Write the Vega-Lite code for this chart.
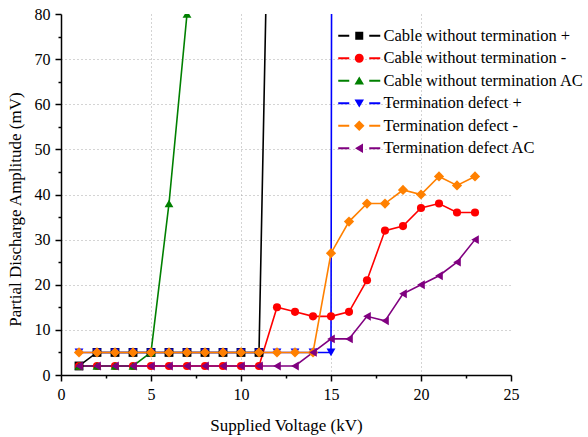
{
  "$schema": "https://vega.github.io/schema/vega-lite/v6.json",
  "width": 450,
  "height": 361,
  "autosize": {"type": "none"},
  "padding": {"left": 61, "top": 14, "right": 77, "bottom": 62},
  "background": "white",
  "config": {
    "view": {"stroke": null},
    "font": "Liberation Serif",
    "axis": {
      "domainColor": "black",
      "domainWidth": 1.5,
      "tickColor": "black",
      "tickWidth": 1.5,
      "labelFont": "Liberation Serif",
      "labelFontSize": 16,
      "labelColor": "black",
      "labelFlush": false,
      "labelOverlap": false,
      "titleFont": "Liberation Serif",
      "titleFontWeight": "normal",
      "titleColor": "black",
      "gridColor": "#a8a8a8",
      "gridDash": [1, 3]
    }
  },
  "resolve": {"axis": {"x": "independent", "y": "independent"}},
  "data": {
    "values": [
      {"s": "Cable without termination +", "v": 1, "pd": 2},
      {"s": "Cable without termination +", "v": 2, "pd": 5},
      {"s": "Cable without termination +", "v": 3, "pd": 5},
      {"s": "Cable without termination +", "v": 4, "pd": 5},
      {"s": "Cable without termination +", "v": 5, "pd": 5},
      {"s": "Cable without termination +", "v": 6, "pd": 5},
      {"s": "Cable without termination +", "v": 7, "pd": 5},
      {"s": "Cable without termination +", "v": 8, "pd": 5},
      {"s": "Cable without termination +", "v": 9, "pd": 5},
      {"s": "Cable without termination +", "v": 10, "pd": 5},
      {"s": "Cable without termination +", "v": 11, "pd": 5},
      {"s": "Cable without termination +", "v": 12, "pd": 205},
      {"s": "Cable without termination -", "v": 1, "pd": 2},
      {"s": "Cable without termination -", "v": 2, "pd": 2},
      {"s": "Cable without termination -", "v": 3, "pd": 2},
      {"s": "Cable without termination -", "v": 4, "pd": 2},
      {"s": "Cable without termination -", "v": 5, "pd": 2},
      {"s": "Cable without termination -", "v": 6, "pd": 2},
      {"s": "Cable without termination -", "v": 7, "pd": 2},
      {"s": "Cable without termination -", "v": 8, "pd": 2},
      {"s": "Cable without termination -", "v": 9, "pd": 2},
      {"s": "Cable without termination -", "v": 10, "pd": 2},
      {"s": "Cable without termination -", "v": 11, "pd": 2},
      {"s": "Cable without termination -", "v": 12, "pd": 15},
      {"s": "Cable without termination -", "v": 13, "pd": 14},
      {"s": "Cable without termination -", "v": 14, "pd": 13},
      {"s": "Cable without termination -", "v": 15, "pd": 13},
      {"s": "Cable without termination -", "v": 16, "pd": 14},
      {"s": "Cable without termination -", "v": 17, "pd": 21},
      {"s": "Cable without termination -", "v": 18, "pd": 32},
      {"s": "Cable without termination -", "v": 19, "pd": 33},
      {"s": "Cable without termination -", "v": 20, "pd": 37},
      {"s": "Cable without termination -", "v": 21, "pd": 38},
      {"s": "Cable without termination -", "v": 22, "pd": 36},
      {"s": "Cable without termination -", "v": 23, "pd": 36},
      {"s": "Cable without termination AC", "v": 1, "pd": 2},
      {"s": "Cable without termination AC", "v": 2, "pd": 2},
      {"s": "Cable without termination AC", "v": 3, "pd": 2},
      {"s": "Cable without termination AC", "v": 4, "pd": 2},
      {"s": "Cable without termination AC", "v": 5, "pd": 5},
      {"s": "Cable without termination AC", "v": 6, "pd": 38},
      {"s": "Cable without termination AC", "v": 7, "pd": 80},
      {"s": "Termination defect +", "v": 1, "pd": 5},
      {"s": "Termination defect +", "v": 2, "pd": 5},
      {"s": "Termination defect +", "v": 3, "pd": 5},
      {"s": "Termination defect +", "v": 4, "pd": 5},
      {"s": "Termination defect +", "v": 5, "pd": 5},
      {"s": "Termination defect +", "v": 6, "pd": 5},
      {"s": "Termination defect +", "v": 7, "pd": 5},
      {"s": "Termination defect +", "v": 8, "pd": 5},
      {"s": "Termination defect +", "v": 9, "pd": 5},
      {"s": "Termination defect +", "v": 10, "pd": 5},
      {"s": "Termination defect +", "v": 11, "pd": 5},
      {"s": "Termination defect +", "v": 12, "pd": 5},
      {"s": "Termination defect +", "v": 13, "pd": 5},
      {"s": "Termination defect +", "v": 14, "pd": 5},
      {"s": "Termination defect +", "v": 15, "pd": 5},
      {"s": "Termination defect +", "v": 16, "pd": 2500},
      {"s": "Termination defect -", "v": 1, "pd": 5},
      {"s": "Termination defect -", "v": 2, "pd": 5},
      {"s": "Termination defect -", "v": 3, "pd": 5},
      {"s": "Termination defect -", "v": 4, "pd": 5},
      {"s": "Termination defect -", "v": 5, "pd": 5},
      {"s": "Termination defect -", "v": 6, "pd": 5},
      {"s": "Termination defect -", "v": 7, "pd": 5},
      {"s": "Termination defect -", "v": 8, "pd": 5},
      {"s": "Termination defect -", "v": 9, "pd": 5},
      {"s": "Termination defect -", "v": 10, "pd": 5},
      {"s": "Termination defect -", "v": 11, "pd": 5},
      {"s": "Termination defect -", "v": 12, "pd": 5},
      {"s": "Termination defect -", "v": 13, "pd": 5},
      {"s": "Termination defect -", "v": 14, "pd": 5},
      {"s": "Termination defect -", "v": 15, "pd": 27},
      {"s": "Termination defect -", "v": 16, "pd": 34},
      {"s": "Termination defect -", "v": 17, "pd": 38},
      {"s": "Termination defect -", "v": 18, "pd": 38},
      {"s": "Termination defect -", "v": 19, "pd": 41},
      {"s": "Termination defect -", "v": 20, "pd": 40},
      {"s": "Termination defect -", "v": 21, "pd": 44},
      {"s": "Termination defect -", "v": 22, "pd": 42},
      {"s": "Termination defect -", "v": 23, "pd": 44},
      {"s": "Termination defect AC", "v": 1, "pd": 2},
      {"s": "Termination defect AC", "v": 2, "pd": 2},
      {"s": "Termination defect AC", "v": 3, "pd": 2},
      {"s": "Termination defect AC", "v": 4, "pd": 2},
      {"s": "Termination defect AC", "v": 5, "pd": 2},
      {"s": "Termination defect AC", "v": 6, "pd": 2},
      {"s": "Termination defect AC", "v": 7, "pd": 2},
      {"s": "Termination defect AC", "v": 8, "pd": 2},
      {"s": "Termination defect AC", "v": 9, "pd": 2},
      {"s": "Termination defect AC", "v": 10, "pd": 2},
      {"s": "Termination defect AC", "v": 11, "pd": 2},
      {"s": "Termination defect AC", "v": 12, "pd": 2},
      {"s": "Termination defect AC", "v": 13, "pd": 2},
      {"s": "Termination defect AC", "v": 14, "pd": 5},
      {"s": "Termination defect AC", "v": 15, "pd": 8},
      {"s": "Termination defect AC", "v": 16, "pd": 8},
      {"s": "Termination defect AC", "v": 17, "pd": 13},
      {"s": "Termination defect AC", "v": 18, "pd": 12},
      {"s": "Termination defect AC", "v": 19, "pd": 18},
      {"s": "Termination defect AC", "v": 20, "pd": 20},
      {"s": "Termination defect AC", "v": 21, "pd": 22},
      {"s": "Termination defect AC", "v": 22, "pd": 25},
      {"s": "Termination defect AC", "v": 23, "pd": 30}
    ]
  },
  "layer": [
    {
      "mark": {"type": "line", "clip": true, "strokeWidth": 1.6},
      "encoding": {
        "x": {
          "field": "v", "type": "quantitative",
          "scale": {"domain": [0, 25], "nice": false},
          "axis": {
            "orient": "bottom",
            "values": [0, 5, 10, 15, 20, 25],
            "title": "Supplied Voltage (kV)",
            "titleFontSize": 17,
            "titlePadding": 15,
            "tickSize": 6,
            "labelPadding": 5,
            "grid": false
          }
        },
        "y": {
          "field": "pd", "type": "quantitative",
          "scale": {"domain": [0, 80], "nice": false},
          "axis": {
            "orient": "left",
            "values": [0, 10, 20, 30, 40, 50, 60, 70, 80],
            "title": "Partial Discharge Amplitude (mV)",
            "titleFontSize": 17,
            "titlePadding": 10,
            "titleY": 195,
            "tickSize": 6,
            "labelPadding": 5,
            "grid": false
          }
        },
        "stroke": {
          "field": "s", "type": "nominal", "legend": null,
          "scale": {"range": ["#000000", "#ff0000", "#008000", "#0000ff", "#ff8000", "#800080"]}
        }
      }
    },
    {
      "mark": {"type": "point", "filled": true, "opacity": 1, "clip": true, "strokeWidth": 0},
      "encoding": {
        "x": {
          "field": "v", "type": "quantitative",
          "axis": {
            "orient": "bottom",
            "values": [2.5, 7.5, 12.5, 17.5, 22.5],
            "labels": false, "domain": false, "grid": false, "title": null,
            "tickSize": 3
          }
        },
        "y": {
          "field": "pd", "type": "quantitative",
          "axis": {
            "orient": "left",
            "values": [5, 15, 25, 35, 45, 55, 65, 75],
            "labels": false, "domain": false, "grid": false, "title": null,
            "tickSize": 3
          }
        },
        "fill": {
          "field": "s", "type": "nominal", "legend": null,
          "scale": {"range": ["#000000", "#ff0000", "#008000", "#0000ff", "#ff8000", "#800080"]}
        },
        "shape": {
          "condition": [
            {"test": "datum.s === 'Cable without termination +'", "value": "square"},
            {"test": "datum.s === 'Cable without termination -'", "value": "circle"},
            {"test": "datum.s === 'Cable without termination AC'", "value": "triangle-up"},
            {"test": "datum.s === 'Termination defect +'", "value": "triangle-down"},
            {"test": "datum.s === 'Termination defect -'", "value": "diamond"}
          ],
          "value": "triangle-left"
        },
        "size": {
          "condition": [
            {"test": "datum.s === 'Termination defect -'", "value": 105},
            {"test": "datum.s === 'Cable without termination -'", "value": 66}
          ],
          "value": 78
        }
      }
    },
    {
      "transform": [{"filter": "datum.pd < 0"}],
      "mark": {"type": "point", "filled": true, "opacity": 1},
      "encoding": {
        "x": {
          "field": "v", "type": "quantitative",
          "axis": {
            "orient": "bottom", "values": [5, 10, 15, 20],
            "grid": true, "ticks": false, "labels": false, "domain": false, "title": null
          }
        },
        "y": {
          "field": "pd", "type": "quantitative",
          "axis": {
            "orient": "left", "values": [10, 20, 30, 40, 50, 60, 70],
            "grid": true, "ticks": false, "labels": false, "domain": false, "title": null
          }
        },
        "color": {
          "field": "s", "type": "nominal",
          "scale": {
            "domain": ["Cable without termination +", "Cable without termination -", "Cable without termination AC", "Termination defect +", "Termination defect -", "Termination defect AC"],
            "range": ["#000000", "#ff0000", "#008000", "#0000ff", "#ff8000", "#800080"]
          },
          "legend": {
            "title": null, "orient": "none", "legendX": 290, "legendY": 13.5,
            "padding": 0, "symbolSize": 100, "symbolStrokeWidth": 0,
            "labelFont": "Liberation Serif", "labelFontSize": 16.5, "labelColor": "black",
            "labelOffset": 16, "labelLimit": 0, "rowPadding": 5.5
          }
        },
        "shape": {
          "field": "s", "type": "nominal",
          "scale": {
            "domain": ["Cable without termination +", "Cable without termination -", "Cable without termination AC", "Termination defect +", "Termination defect -", "Termination defect AC"],
            "range": [
              "M-4.2,-0.2H-2V0.2H-4.2Z M2,-0.2H4.2V0.2H2Z M-0.8,-0.8H0.8V0.8H-0.8Z",
              "M-4.2,-0.2H-2V0.2H-4.2Z M2,-0.2H4.2V0.2H2Z M-0.9,0A0.9,0.9,0,1,0,0.9,0A0.9,0.9,0,1,0,-0.9,0Z",
              "M-4.2,-0.2H-2V0.2H-4.2Z M2,-0.2H4.2V0.2H2Z M0,-0.85L0.95,0.75L-0.95,0.75Z",
              "M-4.2,-0.2H-2V0.2H-4.2Z M2,-0.2H4.2V0.2H2Z M0,0.85L0.95,-0.75L-0.95,-0.75Z",
              "M-4.2,-0.2H-2V0.2H-4.2Z M2,-0.2H4.2V0.2H2Z M0,-1.05L1.05,0L0,1.05L-1.05,0Z",
              "M-4.2,-0.2H-2V0.2H-4.2Z M2,-0.2H4.2V0.2H2Z M-0.85,0L0.75,-0.95L0.75,0.95Z"
            ]
          },
          "legend": {
            "title": null, "orient": "none", "legendX": 290, "legendY": 13.5,
            "padding": 0, "symbolSize": 100, "symbolStrokeWidth": 0,
            "labelFont": "Liberation Serif", "labelFontSize": 16.5, "labelColor": "black",
            "labelOffset": 16, "labelLimit": 0, "rowPadding": 5.5
          }
        }
      }
    }
  ]
}
